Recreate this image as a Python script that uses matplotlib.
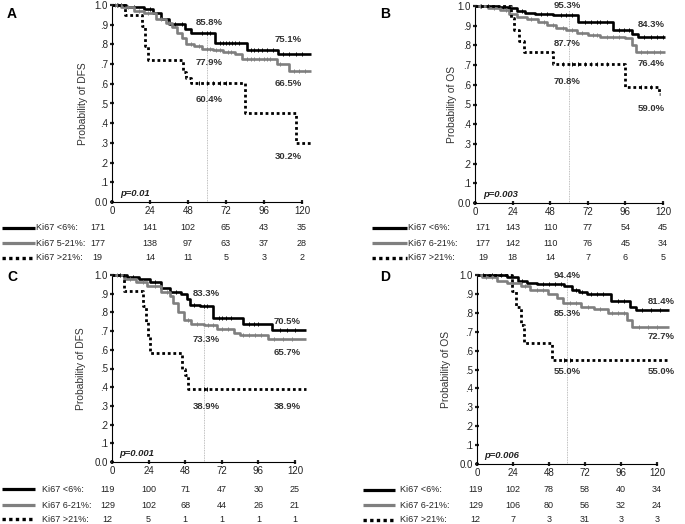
import numpy as np
import matplotlib
matplotlib.use("Agg")
import matplotlib.pyplot as plt
from matplotlib.transforms import blended_transform_factory
from matplotlib.lines import Line2D

plt.rcParams['font.family'] = ['Liberation Sans', 'DejaVu Sans']

W, H = 685, 524

months = [0, 24, 48, 72, 96, 120]
yticks = [0.0, 0.1, 0.2, 0.3, 0.4, 0.5, 0.6, 0.7, 0.8, 0.9, 1.0]
ytick_labels = ['0.0', '.1', '.2', '.3', '.4', '.5', '.6', '.7', '.8', '.9', '1.0']

# ---- panel A : DFS ----
a_low_t = [0, 9, 20, 26, 31, 36, 46, 50, 53, 65, 85, 105, 126]
a_low_s = [1.0, .99, .98, .96, .93, .905, .88, .86, .858, .805, .771, .751, .751]
a_mid_t = [0, 6, 14, 20, 28, 34, 38, 41, 44, 47, 52, 57, 64, 70, 78, 82, 104, 112, 126]
a_mid_s = [1.0, .99, .97, .96, .93, .91, .89, .86, .83, .80, .79, .779, .77, .76, .75, .725, .70, .665, .665]
a_high_t = [0, 8, 19, 21, 23, 45, 47, 50, 84, 116, 126]
a_high_s = [1.0, .947, .895, .79, .72, .66, .63, .604, .453, .302, .302]
a_low_cens = [3, 6, 14, 24, 40, 44, 57, 60, 62, 68, 70, 72, 74, 76, 78, 80, 88, 90, 92, 95, 98, 102, 108, 112, 116, 120]
a_mid_cens = [2, 4, 10, 17, 23, 31, 36, 50, 55, 60, 62, 66, 68, 73, 75, 85, 88, 90, 93, 96, 98, 100, 106, 115, 118, 122]
a_high_cens = [55, 60, 64, 68, 72]
a_risk = [[171, 141, 102, 65, 43, 35], [177, 138, 97, 63, 37, 28], [19, 14, 11, 5, 3, 2]]
a_names = ['Ki67 <6%:', 'Ki67 5-21%:', 'Ki67 >21%:']
a_pct = ['85.8%', '75.1%', '77.9%', '66.5%', '60.4%', '30.2%']
a_pval = 'p=0.01'

# ---- panel B : OS ----
b_low_t = [0, 14, 22, 27, 32, 38, 50, 66, 88, 100, 104, 121]
b_low_s = [1.0, .995, .99, .975, .965, .958, .953, .92, .878, .86, .843, .843]
b_mid_t = [0, 8, 16, 22, 27, 33, 40, 46, 52, 58, 65, 72, 80, 96, 100, 103, 121]
b_mid_s = [1.0, .99, .98, .96, .945, .935, .92, .905, .89, .877, .865, .855, .845, .84, .80, .764, .764]
b_high_t = [0, 23, 25, 28, 31, 50, 96, 117.5, 118]
b_high_s = [1.0, .94, .88, .82, .765, .708, .59, .555, .555]
b_low_cens = [4, 8, 18, 30, 42, 46, 55, 58, 62, 70, 74, 78, 80, 84, 92, 95, 98, 108, 112, 116, 120]
b_mid_cens = [3, 12, 20, 36, 44, 50, 56, 62, 68, 75, 78, 84, 88, 92, 106, 110, 114, 118]
b_high_cens = [56, 62, 66, 70, 74, 78, 84, 106, 112]
b_risk = [[171, 143, 110, 77, 54, 45], [177, 142, 110, 76, 45, 34], [19, 18, 14, 7, 6, 5]]
b_names = ['Ki67 <6%:', 'Ki67 6-21%:', 'Ki67 >21%:']
b_pct = ['95.3%', '84.3%', '87.7%', '76.4%', '70.8%', '59.0%']
b_pval = 'p=0.003'

# ---- panel C : DFS ----
c_low_t = [0, 10, 18, 25, 32, 38, 45, 49, 51, 58, 66, 86, 105, 127]
c_low_s = [1.0, .99, .98, .96, .93, .91, .90, .87, .84, .833, .77, .74, .705, .705]
c_mid_t = [0, 8, 16, 23, 32, 38, 40, 43, 47, 52, 60, 69, 80, 84, 102, 127]
c_mid_s = [1.0, .98, .96, .94, .91, .89, .85, .80, .76, .74, .733, .71, .69, .68, .657, .657]
c_high_t = [0, 8, 20, 22, 23.5, 25, 46, 48, 50, 127]
c_high_s = [1.0, .917, .833, .75, .667, .583, .50, .467, .389, .389]
c_low_cens = [5, 14, 28, 42, 54, 60, 62, 70, 72, 75, 78, 90, 93, 96, 110, 115, 120]
c_mid_cens = [3, 12, 20, 28, 36, 50, 56, 63, 66, 72, 76, 86, 90, 94, 98, 106, 112, 118]
c_high_cens = [60, 62]
c_risk = [[119, 100, 71, 47, 30, 25], [129, 102, 68, 44, 26, 21], [12, 5, 1, 1, 1, 1]]
c_names = ['Ki67 <6%:', 'Ki67 6-21%:', 'Ki67 >21%:']
c_pct = ['83.3%', '70.5%', '73.3%', '65.7%', '38.9%', '38.9%']
c_pval = 'p=0.001'

# ---- panel D : OS ----
d_low_t = [0, 20, 27, 33, 40, 58, 63, 68, 73, 89, 102, 106, 128]
d_low_s = [1.0, .99, .97, .96, .955, .944, .92, .91, .90, .86, .83, .814, .814]
d_mid_t = [0, 3, 13, 20, 29, 35, 47, 53, 57, 69, 78, 87, 100, 103, 128]
d_mid_s = [1.0, .99, .97, .96, .94, .92, .90, .88, .853, .83, .82, .80, .76, .727, .727]
d_high_t = [0, 23, 26, 29, 31, 50, 128]
d_high_s = [1.0, .917, .833, .733, .64, .55, .55]
d_low_cens = [4, 10, 16, 30, 44, 48, 52, 56, 66, 70, 76, 80, 84, 94, 98, 110, 116, 122]
d_mid_cens = [6, 10, 24, 32, 40, 44, 62, 66, 74, 82, 90, 94, 98, 108, 114, 120]
d_high_cens = [58, 62]
d_risk = [[119, 102, 78, 58, 40, 34], [129, 106, 80, 56, 32, 24], [12, 7, 3, 31, 3, 3]]
d_names = ['Ki67 <6%:', 'Ki67 6-21%:', 'Ki67 >21%:']
d_pct = ['94.4%', '81.4%', '85.3%', '72.7%', '55.0%', '55.0%']
d_pval = 'p=0.006'

panels = [
    dict(letter='A', ylabel='Probability of DFS',
         curves=[(a_low_t, a_low_s, a_low_cens), (a_mid_t, a_mid_s, a_mid_cens), (a_high_t, a_high_s, a_high_cens)],
         risk=a_risk, names=a_names, pct=a_pct, pval=a_pval,
         # layout: left px, top px, px per month, bottom px
         geo=(112, 5, 1.583, 202), lab_x=-24, letter_xy=(7, 14), ref_top=.86,
         pct_xy=[(52.6, .91), (103, .825), (52.6, .707), (103, .60), (52.6, .52), (103, .23)],
         rows=[228, 243, 258], leg=(2, 35, 36), first_col=-9),
    dict(letter='B', ylabel='Probability of OS',
         curves=[(b_low_t, b_low_s, b_low_cens), (b_mid_t, b_mid_s, b_mid_cens), (b_high_t, b_high_s, b_high_cens)],
         risk=b_risk, names=b_names, pct=b_pct, pval=b_pval,
         geo=(475, 6, 1.567, 203), lab_x=-18, letter_xy=(380, 14), ref_top=.98,
         pct_xy=[(50, 1.005), (104, .908), (50, .81), (104, .71), (50, .615), (104, .48)],
         rows=[228, 243, 258], leg=(372, 407, 408), first_col=5),
    dict(letter='C', ylabel='Probability of DFS',
         curves=[(c_low_t, c_low_s, c_low_cens), (c_mid_t, c_mid_s, c_mid_cens), (c_high_t, c_high_s, c_high_cens)],
         risk=c_risk, names=c_names, pct=c_pct, pval=c_pval,
         geo=(112, 275, 1.525, 462), lab_x=-26, letter_xy=(7, 277), ref_top=.83,
         pct_xy=[(53, .90), (106, .754), (53, .655), (106, .584), (53, .295), (106, .295)],
         rows=[489, 505, 519], leg=(2, 35, 42), first_col=-3),
    dict(letter='D', ylabel='Probability of OS',
         curves=[(d_low_t, d_low_s, d_low_cens), (d_mid_t, d_mid_s, d_mid_cens), (d_high_t, d_high_s, d_high_cens)],
         risk=d_risk, names=d_names, pct=d_pct, pval=d_pval,
         geo=(477, 275, 1.5, 464), lab_x=-26, letter_xy=(380, 277), ref_top=1.0,
         pct_xy=[(51, 1.0), (114, .86), (51, .797), (114, .674), (51, .489), (114, .489)],
         rows=[490, 505, 520], leg=(363, 395, 400), first_col=-1),
]

styles = [dict(color='black', lw=1.9, ls='-'),
          dict(color='#7f7f7f', lw=1.9, ls='-'),
          dict(color='black', lw=2.0, ls=(0, (1, 1)))]

fig = plt.figure(figsize=(W / 100, H / 100), dpi=100)

for p in panels:
    left, top, ppm, bottom = p['geo']
    width = 128 * ppm
    ax = fig.add_axes([left / W, 1 - bottom / H, width / W, (bottom - top) / H])
    ax.set_xlim(0, 128)
    ax.set_ylim(0, 1.0)
    for sp in ['top', 'right']:
        ax.spines[sp].set_visible(False)
    ax.spines['left'].set_bounds(0, 1)
    ax.spines['bottom'].set_bounds(0, 120)
    for sp in ['left', 'bottom']:
        ax.spines[sp].set_linewidth(0.8)
    ax.set_xticks(months)
    ax.set_yticks(yticks)
    ax.set_yticklabels(ytick_labels)
    ax.tick_params(direction='inout', length=3, width=1.6, labelsize=7, pad=1.5, colors='#222222')
    ax.set_ylabel(p['ylabel'], fontsize=7.4, color='#333333')
    ax.yaxis.set_label_coords(p['lab_x'] / width, 0.5)

    # reference line at 60 months
    ax.plot([60, 60], [0, p['ref_top']], color='#aaaaaa', lw=0.6, ls=(0, (1, 1)), zorder=1)

    for (t, s, cens), st in zip(p['curves'], styles):
        ax.step(t, s, where='post', color=st['color'], lw=st['lw'], ls=st['ls'],
                solid_capstyle='butt', dash_capstyle='butt', clip_on=False, zorder=3)
        t_arr = np.array(t)
        idx = np.searchsorted(t_arr, cens, side='right') - 1
        cy = np.array(s)[idx]
        ax.plot(cens, cy, ls='none', marker='|', ms=3, mew=0.7, color=st['color'],
                clip_on=False, zorder=3)

    for txt, (x, y) in zip(p['pct'], p['pct_xy']):
        ax.text(x, y, txt, fontsize=6.8, fontweight='bold', color='#333333',
                ha='left', va='center', clip_on=False)
    ax.text(5, 0.045, p['pval'], fontsize=6.8, fontweight='bold', style='italic',
            color='#222222', ha='left', va='center')

    fig.text(p['letter_xy'][0] / W, 1 - p['letter_xy'][1] / H, p['letter'],
             fontsize=10, fontweight='bold', ha='left', va='center')

    # numbers at risk
    tr = blended_transform_factory(ax.transData, fig.transFigure)
    cols = [p['first_col']] + months[1:]
    x0, x1, xt = p['leg']
    for row_y, counts, name, st in zip(p['rows'], p['risk'], p['names'], styles):
        fy = 1 - row_y / H
        fig.add_artist(Line2D([x0 / W, x1 / W], [fy, fy], color=st['color'], lw=st['lw'] + 0.4,
                              ls=st['ls'], solid_capstyle='butt', dash_capstyle='butt'))
        fig.text(xt / W, fy, name, fontsize=6.5, color='#222222', ha='left', va='center')
        for cx, n in zip(cols, counts):
            ax.text(cx, fy, str(n), fontsize=6.5, color='#222222', ha='center', va='center',
                    transform=tr, clip_on=False)

fig.savefig('out.png', dpi=100)
